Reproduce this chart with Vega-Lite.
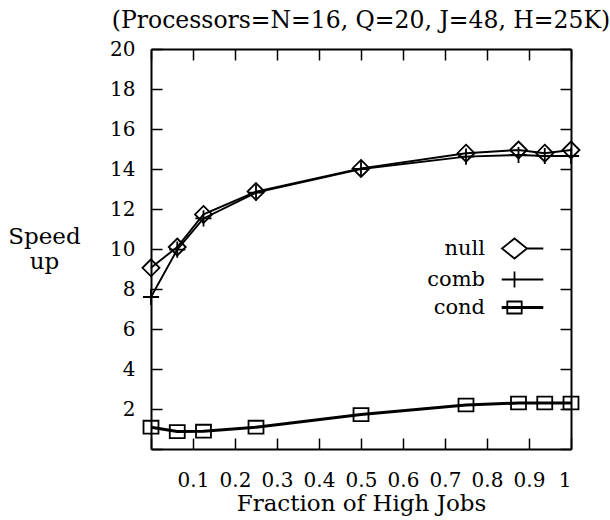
{
  "$schema": "https://vega.github.io/schema/vega-lite/v6.json",
  "width": 420,
  "height": 400,
  "autosize": {"type": "none"},
  "padding": {"left": 151, "top": 49, "right": 39, "bottom": 71},
  "background": "white",
  "title": {"text": "(Processors=N=16, Q=20, J=48, H=25K)", "font": "DejaVu Serif", "fontSize": 23.5, "fontWeight": "normal", "color": "black", "anchor": "middle", "baseline": "bottom", "offset": 18, "dy": 35},
  "config": {
    "view": {"stroke": null},
    "axis": {"domainColor": "black", "domainWidth": 2, "tickColor": "black", "tickWidth": 1.5, "tickSize": -11, "grid": false, "labelFont": "DejaVu Serif", "labelFontSize": 20, "labelColor": "black", "titleFont": "DejaVu Serif", "titleFontSize": 23, "titleFontWeight": "normal", "titleColor": "black"}
  },
  "data": {"values": [
    {"series": "null", "frac": 0, "speedup": 9.06},
    {"series": "null", "frac": 0.0625, "speedup": 10.1},
    {"series": "null", "frac": 0.125, "speedup": 11.73},
    {"series": "null", "frac": 0.25, "speedup": 12.87},
    {"series": "null", "frac": 0.5, "speedup": 14.03},
    {"series": "null", "frac": 0.75, "speedup": 14.79},
    {"series": "null", "frac": 0.875, "speedup": 14.95},
    {"series": "null", "frac": 0.9375, "speedup": 14.79},
    {"series": "null", "frac": 1, "speedup": 14.95},
    {"series": "comb", "frac": 0, "speedup": 7.6},
    {"series": "comb", "frac": 0.0625, "speedup": 9.97},
    {"series": "comb", "frac": 0.125, "speedup": 11.53},
    {"series": "comb", "frac": 0.25, "speedup": 12.82},
    {"series": "comb", "frac": 0.5, "speedup": 14.0},
    {"series": "comb", "frac": 0.75, "speedup": 14.62},
    {"series": "comb", "frac": 0.875, "speedup": 14.7},
    {"series": "comb", "frac": 0.9375, "speedup": 14.65},
    {"series": "comb", "frac": 1, "speedup": 14.65},
    {"series": "cond", "frac": 0, "speedup": 1.09},
    {"series": "cond", "frac": 0.0625, "speedup": 0.87},
    {"series": "cond", "frac": 0.125, "speedup": 0.89},
    {"series": "cond", "frac": 0.25, "speedup": 1.09},
    {"series": "cond", "frac": 0.5, "speedup": 1.72},
    {"series": "cond", "frac": 0.75, "speedup": 2.2},
    {"series": "cond", "frac": 0.875, "speedup": 2.3},
    {"series": "cond", "frac": 0.9375, "speedup": 2.3},
    {"series": "cond", "frac": 1, "speedup": 2.3}
  ]},
  "layer": [
    {
      "mark": {"type": "line", "color": "black"},
      "encoding": {
        "x": {"field": "frac", "type": "quantitative", "scale": {"domain": [0, 1], "nice": false, "zero": false},
          "axis": {"orient": "bottom", "values": [0, 0.1, 0.2, 0.3, 0.4, 0.5, 0.6, 0.7, 0.8, 0.9, 1], "format": "~g", "labelExpr": "datum.value == 0 ? '' : datum.label", "labelPadding": 32, "title": "Fraction of High Jobs", "titlePadding": 2}},
        "y": {"field": "speedup", "type": "quantitative", "scale": {"domain": [0, 20], "nice": false},
          "axis": {"orient": "left", "values": [0, 2, 4, 6, 8, 10, 12, 14, 16, 18, 20], "labelExpr": "datum.value == 0 ? '' : datum.label", "labelPadding": 27, "title": ["Speed", "up"], "titleAngle": 0, "titleAlign": "center", "titleBaseline": "alphabetic", "titleX": -107, "titleY": 194, "titleLineHeight": 25}},
        "detail": {"field": "series"},
        "strokeWidth": {"condition": {"test": "datum.series === 'cond'", "value": 3}, "value": 1.9}
      }
    },
    {
      "mark": {"type": "point", "filled": false, "color": "black", "strokeWidth": 1.8, "size": 289, "opacity": 1},
      "encoding": {
        "x": {"field": "frac", "type": "quantitative", "scale": {"domain": [0, 1], "nice": false, "zero": false},
          "axis": {"orient": "top", "values": [0, 0.1, 0.2, 0.3, 0.4, 0.5, 0.6, 0.7, 0.8, 0.9, 1], "labels": false, "title": null}},
        "y": {"field": "speedup", "type": "quantitative", "scale": {"domain": [0, 20], "nice": false},
          "axis": {"orient": "right", "values": [0, 2, 4, 6, 8, 10, 12, 14, 16, 18, 20], "labels": false, "title": null}},
        "shape": {"field": "series", "type": "nominal",
          "scale": {"domain": ["null", "comb", "cond"], "range": ["M0,-1L1,0L0,1L-1,0Z", "M-0.95,0H0.95M0,-0.95V0.95", "M-0.88,-0.76H0.88V0.76H-0.88Z"]},
          "legend": null
        }
      }
    },
    {
      "mark": {"type": "point", "filled": false, "color": "black", "strokeWidth": 1.8, "size": 256, "opacity": 0},
      "encoding": {
        "x": {"field": "frac", "type": "quantitative", "scale": {"domain": [0, 1], "nice": false, "zero": false}, "axis": null},
        "y": {"field": "speedup", "type": "quantitative", "scale": {"domain": [0, 20], "nice": false}, "axis": null},
        "shape": {"field": "series", "type": "nominal",
          "scale": {"domain": ["null", "comb", "cond"], "range": ["M-1.56,0L0,-1.25L1.56,0L0,1.25ZM1.56,0H3.6", "M-1.6,0H3.6M0,-1V1", "M-1.6,-0.07H3.6M-1.6,0.07H3.6M-0.9,-0.75H0.9V0.75H-0.9Z"]},
          "legend": {
            "orient": "none", "legendX": 353, "legendY": 189, "title": null, "padding": 0,
            "labelFont": "DejaVu Serif", "labelFontSize": 21, "labelColor": "black", "labelAlign": "right", "labelOffset": -40,
            "symbolSize": 256, "symbolOpacity": 1, "symbolStrokeColor": "black", "symbolFillColor": "transparent", "symbolStrokeWidth": 1.8, "rowPadding": 4
          }
        }
      }
    }
  ],
  "resolve": {"scale": {"shape": "independent"}, "axis": {"x": "independent", "y": "independent"}}
}
